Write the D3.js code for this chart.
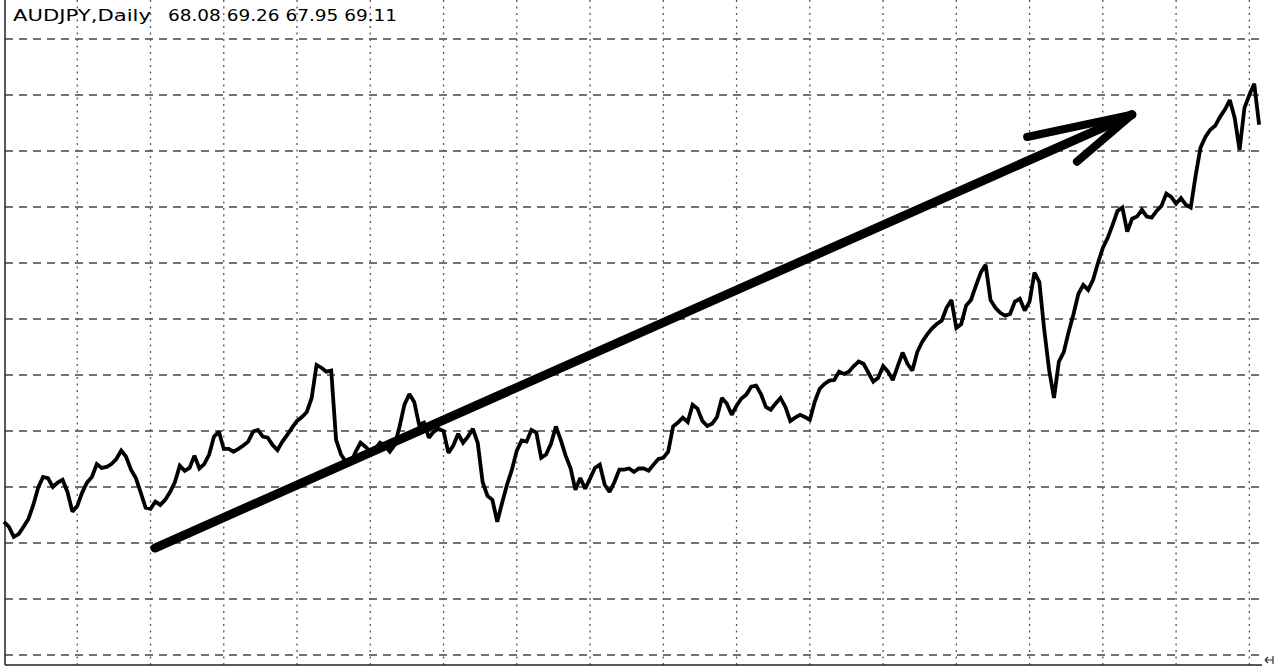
<html lang="en">
<head>
<meta charset="UTF-8">
<title>AUDJPY,Daily</title>
<script src="https://d3js.org/d3.v7.min.js"></script>
<style>
body { margin: 0; background: #fff; }
svg { display: block; }
</style>
</head>
<body>
<svg id="chart" width="1274" height="670"></svg>
<script>
// daily closes, one per bar
const closes = [
  62.38, 62.29, 62.11, 62.16, 62.29, 62.43, 62.68, 62.99, 63.18, 63.16,
  63.00, 63.08, 63.13, 62.91, 62.56, 62.66, 62.90, 63.08, 63.18, 63.41,
  63.34, 63.36, 63.41, 63.50, 63.65, 63.54, 63.31, 63.16, 62.90, 62.63,
  62.61, 62.74, 62.68, 62.77, 62.91, 63.09, 63.38, 63.29, 63.34, 63.56,
  63.33, 63.41, 63.58, 63.90, 63.99, 63.68, 63.68, 63.63, 63.68, 63.74,
  63.81, 63.99, 64.02, 63.90, 63.88, 63.75, 63.66, 63.81, 63.93, 64.06,
  64.18, 64.25, 64.34, 64.59, 65.18, 65.13, 65.06, 65.08, 63.84, 63.58,
  63.45, 63.43, 63.63, 63.79, 63.72, 63.63, 63.68, 63.79, 63.74, 63.63,
  63.75, 64.08, 64.47, 64.66, 64.52, 64.11, 64.15, 63.88, 63.99, 64.04,
  64.00, 63.61, 63.74, 63.95, 63.79, 63.90, 64.04, 63.79, 63.09, 62.84,
  62.77, 62.38, 62.72, 63.04, 63.31, 63.65, 63.83, 63.81, 64.02, 63.97,
  63.52, 63.58, 63.77, 64.08, 63.84, 63.56, 63.34, 62.95, 63.16, 62.97,
  63.15, 63.34, 63.40, 63.04, 62.91, 63.09, 63.31, 63.31, 63.33, 63.27,
  63.33, 63.33, 63.29, 63.40, 63.50, 63.52, 63.63, 64.08, 64.15, 64.24,
  64.16, 64.47, 64.40, 64.18, 64.09, 64.13, 64.25, 64.59, 64.49, 64.29,
  64.45, 64.58, 64.65, 64.79, 64.81, 64.66, 64.43, 64.38, 64.49, 64.59,
  64.43, 64.18, 64.24, 64.29, 64.25, 64.20, 64.52, 64.75, 64.84, 64.90,
  64.91, 65.06, 65.02, 65.06, 65.16, 65.24, 65.20, 65.04, 64.88, 64.95,
  65.16, 65.06, 64.91, 65.16, 65.40, 65.20, 65.08, 65.41, 65.59, 65.72,
  65.83, 65.91, 65.97, 66.20, 66.34, 65.84, 65.91, 66.24, 66.34, 66.59,
  66.83, 66.97, 66.34, 66.20, 66.11, 66.06, 66.09, 66.31, 66.36, 66.15,
  66.31, 66.83, 66.66, 65.81, 65.09, 64.59, 65.24, 65.41, 65.77, 66.09,
  66.45, 66.61, 66.52, 66.70, 67.00, 67.27, 67.45, 67.68, 67.93, 67.99,
  67.56, 67.79, 67.83, 67.95, 67.83, 67.81, 67.93, 68.02, 68.24, 68.18,
  68.06, 68.16, 68.04, 67.99, 68.56, 69.06, 69.25, 69.38, 69.45, 69.61,
  69.74, 69.91, 69.59, 69.02, 69.77, 70.00, 70.20, 69.47
];

const symbolLabel = 'AUDJPY,Daily';
const ohlcLabel = '68.08 69.26 67.95 69.11';

// grid: price levels and bar numbers where the grid lines sit
const gridPrices = d3.range(60, 72, 1);
const gridBars = d3.range(15, 256, 15);

// hand drawn arrow, in (bar, price)
const arrowShaft = [[30.9, 61.91], [230.96, 69.65]];
const arrowBarbs = [[[209.5, 69.25], [230.96, 69.65]], [[219.7, 68.81], [230.96, 69.65]]];

const svg = d3.select('#chart');
const W = 1274, H = 670;
const plotL = 5, plotR = 1262, plotT = 0, plotB = 665;

const x = d3.scaleLinear().domain([0, 258]).range([4, 1264]);
const y = d3.scaleLinear().domain([60, 71]).range([655, 39]);

svg.append('rect').attr('width', W).attr('height', H).attr('fill', '#fff');

// horizontal dashed grid
svg.append('g').selectAll('line')
  .data(gridPrices)
  .join('line')
  .attr('x1', plotL).attr('x2', plotR)
  .attr('y1', d => y(d)).attr('y2', d => y(d))
  .attr('stroke', '#444')
  .attr('stroke-width', 1.3)
  .attr('stroke-dasharray', '8,6');

// vertical dotted grid
svg.append('g').selectAll('line')
  .data(gridBars)
  .join('line')
  .attr('x1', d => x(d)).attr('x2', d => x(d))
  .attr('y1', plotT).attr('y2', plotB)
  .attr('stroke', '#555')
  .attr('stroke-width', 1.3)
  .attr('stroke-dasharray', '2,4.5');

// frame
svg.append('line').attr('x1', plotL).attr('x2', plotL).attr('y1', plotT).attr('y2', plotB)
  .attr('stroke', '#222').attr('stroke-width', 1.5);
svg.append('line').attr('x1', plotL).attr('x2', plotR).attr('y1', plotB).attr('y2', plotB)
  .attr('stroke', '#222').attr('stroke-width', 1.5);

// shift marker at bottom right
svg.append('path')
  .attr('d', 'M1265,660 L1273,660 M1265,660 L1268,657 M1265,660 L1268,663 M1273,656 L1273,664')
  .attr('stroke', '#333').attr('stroke-width', 1.2).attr('fill', 'none');

// price line
const line = d3.line()
  .x((d, i) => x(i))
  .y(d => y(d));

svg.append('path')
  .datum(closes)
  .attr('d', line)
  .attr('fill', 'none')
  .attr('stroke', '#000')
  .attr('stroke-width', 3.8)
  .attr('stroke-linejoin', 'miter')
  .attr('stroke-miterlimit', 2);

// arrow
const arrowLine = d3.line().x(d => x(d[0])).y(d => y(d[1]));
svg.append('path')
  .datum(arrowShaft)
  .attr('d', arrowLine)
  .attr('stroke', '#000').attr('stroke-width', 9)
  .attr('stroke-linecap', 'round').attr('fill', 'none');
svg.append('g').selectAll('path')
  .data(arrowBarbs)
  .join('path')
  .attr('d', arrowLine)
  .attr('stroke', '#000').attr('stroke-width', 8)
  .attr('stroke-linecap', 'round').attr('fill', 'none');

// title
svg.append('text')
  .attr('x', 13).attr('y', 21)
  .attr('font-family', 'DejaVu Sans, Verdana, sans-serif')
  .attr('font-size', 15)
  .attr('textLength', 138)
  .attr('lengthAdjust', 'spacingAndGlyphs')
  .attr('fill', '#000')
  .text(symbolLabel);
svg.append('text')
  .attr('x', 168).attr('y', 21)
  .attr('font-family', 'DejaVu Sans, Verdana, sans-serif')
  .attr('font-size', 15)
  .attr('textLength', 229)
  .attr('lengthAdjust', 'spacingAndGlyphs')
  .attr('fill', '#000')
  .text(ohlcLabel);
</script>
</body>
</html>
